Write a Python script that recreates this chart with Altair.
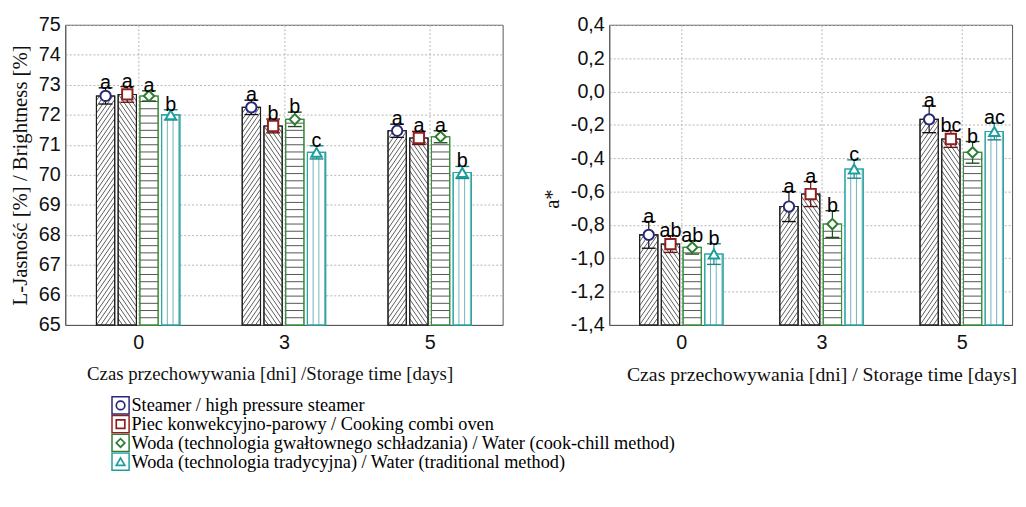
import math
import altair as alt
import pandas as pd

# ---------------- data ----------------
days = ["0", "3", "5"]
series = [
    "Steamer / high pressure steamer",
    "Piec konwekcyjno-parowy / Cooking combi oven",
    "Woda (technologia gwałtownego schładzania) / Water (cook-chill method)",
    "Woda (technologia tradycyjna) / Water (traditional method)",
]

# L* brightness [%], days 0, 3, 5
L_steamer = [72.63, 72.25, 71.47]
L_oven = [72.68, 71.63, 71.23]
L_chill = [72.63, 71.85, 71.27]
L_trad = [72.00, 70.75, 70.08]
L_err_steamer = [0.27, 0.24, 0.22]
L_err_oven = [0.26, 0.23, 0.22]
L_err_chill = [0.17, 0.24, 0.20]
L_err_trad = [0.17, 0.22, 0.20]
L_let_steamer = ["a", "a", "a"]
L_let_oven = ["a", "b", "a"]
L_let_chill = ["a", "b", "a"]
L_let_trad = ["b", "c", "b"]

# a* values, days 0, 3, 5
A_steamer = [-0.86, -0.69, -0.167]
A_oven = [-0.915, -0.615, -0.285]
A_chill = [-0.935, -0.795, -0.365]
A_trad = [-0.975, -0.465, -0.24]
A_err_steamer = [0.08, 0.09, 0.08]
A_err_oven = [0.05, 0.075, 0.05]
A_err_chill = [0.04, 0.08, 0.065]
A_err_trad = [0.062, 0.055, 0.05]
A_let_steamer = ["a", "a", "a"]
A_let_oven = ["ab", "a", "bc"]
A_let_chill = ["ab", "b", "b"]
A_let_trad = ["b", "c", "ac"]

L_ticks = [65, 66, 67, 68, 69, 70, 71, 72, 73, 74, 75]
A_ticks = [-1.4, -1.2, -1.0, -0.8, -0.6, -0.4, -0.2, 0.0, 0.2, 0.4]

# ---------------- style ----------------
SERIES_STROKE = ["#1e1e1e", "#1e1e1e", "#3a8f3a", "#2aa5a5"]
SERIES_MARK = ["#27277a", "#8e1f1f", "#2e7d32", "#1c9e9e"]
SERIES_ERR = ["#111111", "#5c1616", "#1f4f1f", "#1e8585"]
SHAPES = ["circle", "square", "diamond", "triangle-up"]
HATCH = ["diag_up", "diag_down", "horiz", "vert"]
HATCH_COL = ["#333333", "#333333", "#2a2a2a", "#4f9ea6"]

SANS = "Liberation Sans, Arial, sans-serif"
SERIF = "Liberation Serif, Times New Roman, serif"

LEFT_W, RIGHT_W, PLOT_H = 443, 408, 304
LEFT_XDOM = [-0.5, 2.5]
RIGHT_XDOM = [-0.514, 2.359]
BAR_PX, STEP_PX, CAP_PX = 18.5, 22.0, 14.0
SLOPE, SP_D, SP_H, SP_V = 1.45, 6.5, 7.3, 5.8


def build(vals, errs, lets, ymin, pxx):
    step = STEP_PX / pxx
    half = BAR_PX / 2 / pxx
    cap = CAP_PX / 2 / pxx
    rows = []
    for s, name in enumerate(series):
        for g, d in enumerate(days):
            xc = g + (s - 1.5) * step
            m, e = vals[s][g], errs[s][g]
            rows.append(dict(series=name, day=d, xc=xc, x0=xc - half, x1=xc + half,
                             c0=xc - cap, c1=xc + cap, mean=m, lo=m - e, hi=m + e,
                             base=ymin, let=lets[s][g], kind=HATCH[s]))
    return pd.DataFrame(rows)


def hatch(df, pxx, pxy):
    out = []
    for r in df.itertuples():
        w = (r.x1 - r.x0) * pxx
        h = (r.mean - r.base) * pxy
        segs = []
        if r.kind == "horiz":
            v = SP_H
            while v < h - 1:
                segs.append((0, v, w, v))
                v += SP_H
        elif r.kind == "vert":
            u = SP_V
            while u < w - 1:
                segs.append((u, 0, u, h))
                u += SP_V
        elif r.kind == "diag_up":
            m = SLOPE
            for k in range(math.floor(-m * w / SP_D), math.ceil(h / SP_D) + 1):
                c = k * SP_D
                u0, u1 = max(0.0, -c / m), min(w, (h - c) / m)
                if u1 - u0 > 0.3:
                    segs.append((u0, m * u0 + c, u1, m * u1 + c))
        else:
            m = SLOPE
            for k in range(0, math.ceil((h + m * w) / SP_D) + 1):
                c = k * SP_D
                u0, u1 = max(0.0, (c - h) / m), min(w, c / m)
                if u1 - u0 > 0.3:
                    segs.append((u0, c - m * u0, u1, c - m * u1))
        for ua, va, ub, vb in segs:
            out.append(dict(kind=r.kind, hx=r.x0 + ua / pxx, hy=r.base + va / pxy,
                            hx2=r.x0 + ub / pxx, hy2=r.base + vb / pxy))
    return pd.DataFrame(out)


day_expr = "[" + ",".join("'%s'" % d for d in days) + "][datum.value]"


def panel(vals, errs, lets, ydom, yvals, width, xdom, ytitle, xtitle, xtitle_x, xtitle_size,
          ylabel_expr=None, ytitle_y=None):
    pxx = width / (xdom[1] - xdom[0])
    pxy = PLOT_H / (ydom[1] - ydom[0])
    df = build(vals, errs, lets, ydom[0], pxx)
    hdf = hatch(df, pxx, pxy)
    xs = alt.Scale(domain=xdom, nice=False, zero=False)
    ys = alt.Scale(domain=ydom, nice=False, zero=False)
    xaxis = alt.Axis(values=[0, 1, 2], labelExpr=day_expr, title=xtitle, grid=True, ticks=False,
                     labelPadding=8, titlePadding=12, titleFontSize=xtitle_size, titleX=xtitle_x,
                     domain=True)
    yk = dict(values=yvals, title=ytitle, grid=True, ticks=False, labelPadding=5, titlePadding=8,
              titleFontSize=21)
    if ylabel_expr:
        yk["labelExpr"] = ylabel_expr
    if ytitle_y is not None:
        yk["titleY"] = ytitle_y
    yaxis = alt.Axis(**yk)

    def X(f):
        return alt.X(f, scale=xs, axis=xaxis)

    def Y(f):
        return alt.Y(f, scale=ys, axis=yaxis)

    base = alt.Chart(df)
    sstroke = alt.Stroke("series:N", scale=alt.Scale(domain=series, range=SERIES_STROKE), legend=None)
    serr = alt.Stroke("series:N", scale=alt.Scale(domain=series, range=SERIES_ERR), legend=None)
    smark = alt.Stroke("series:N", scale=alt.Scale(domain=series, range=SERIES_MARK), legend=None)
    bars = base.mark_rect(fill="white", strokeWidth=1.1).encode(
        x=X("x0:Q"), x2="x1", y=Y("mean:Q"), y2="base", stroke=sstroke)
    hat = alt.Chart(hdf).mark_rule(strokeWidth=0.8).encode(
        x=X("hx:Q"), x2="hx2", y=Y("hy:Q"), y2="hy2",
        stroke=alt.Stroke("kind:N", scale=alt.Scale(domain=HATCH, range=HATCH_COL), legend=None))
    outline = base.mark_rect(fillOpacity=0, strokeWidth=1.1).encode(
        x=X("x0:Q"), x2="x1", y=Y("mean:Q"), y2="base", stroke=sstroke)
    whisk = base.mark_rule(strokeWidth=1.2).encode(
        x=X("xc:Q"), y=Y("lo:Q"), y2="hi", stroke=serr)
    capt = base.mark_rule(strokeWidth=1.4).encode(
        x=X("c0:Q"), x2="c1", y=Y("hi:Q"), stroke=serr)
    capb = base.mark_rule(strokeWidth=1.4).encode(
        x=X("c0:Q"), x2="c1", y=Y("lo:Q"), stroke=serr)
    pts = base.mark_point(fill="white", fillOpacity=1, strokeWidth=2, size=110, opacity=1).encode(
        x=X("xc:Q"), y=Y("mean:Q"), stroke=smark,
        shape=alt.Shape("series:N", scale=alt.Scale(domain=series, range=SHAPES), legend=None))
    txt = base.mark_text(font=SANS, fontSize=20, baseline="alphabetic", dy=1, color="black").encode(
        x=X("xc:Q"), y=Y("hi:Q"), text="let:N")
    return alt.layer(bars, hat, outline, whisk, capt, capb, pts, txt).resolve_scale(
        stroke="independent").properties(width=width, height=PLOT_H)


left = panel([L_steamer, L_oven, L_chill, L_trad],
             [L_err_steamer, L_err_oven, L_err_chill, L_err_trad],
             [L_let_steamer, L_let_oven, L_let_chill, L_let_trad],
             [65, 75], L_ticks, LEFT_W, LEFT_XDOM,
             "L-Jasność [%] / Brightness [%]",
             "Czas przechowywania [dni] /Storage time [days]", 207, 19)

right = panel([A_steamer, A_oven, A_chill, A_trad],
              [A_err_steamer, A_err_oven, A_err_chill, A_err_trad],
              [A_let_steamer, A_let_oven, A_let_chill, A_let_trad],
              [-1.4, 0.4], A_ticks, RIGHT_W, RIGHT_XDOM,
              "a*",
              "Czas przechowywania [dni] / Storage time [days]", 215, 20,
              ylabel_expr="replace(replace(format(datum.value, '.1f'), '.', ','), '\u2212', '-')",
              ytitle_y=176)

# ---------------- legend ----------------
leg_df = pd.DataFrame({"series": series, "row": list(range(len(series)))})
LX = 56
ly = alt.Y("row:Q", scale=alt.Scale(domain=[3.5, -0.5]), axis=None)
lstroke = alt.Stroke("series:N", scale=alt.Scale(domain=series, range=SERIES_MARK), legend=None)
lbase = alt.Chart(leg_df)
lbox = lbase.mark_square(size=300, filled=False, fill="white", fillOpacity=1, strokeWidth=1.5, opacity=1).encode(
    x=alt.value(LX), y=ly, stroke=lstroke)
lpt = lbase.mark_point(size=75, strokeWidth=1.7, opacity=1).encode(
    x=alt.value(LX), y=ly, stroke=lstroke,
    shape=alt.Shape("series:N", scale=alt.Scale(domain=series, range=SHAPES), legend=None))
ltxt = lbase.mark_text(align="left", baseline="middle", font=SERIF, fontSize=18.5, color="black").encode(
    x=alt.value(LX + 11), y=ly, text="series:N")
legend = alt.layer(lbox, lpt, ltxt).properties(width=700, height=76,
                                              view=alt.ViewBackground(strokeOpacity=0))

top = alt.hconcat(left, right, spacing=38)
chart = alt.vconcat(top, legend, spacing=8).properties(
    padding={"left": 1, "top": 3, "right": 0, "bottom": 0}, background="white"
).configure_view(stroke="#555555", strokeWidth=1).configure_axis(
    labelFont=SANS, labelFontSize=20, labelColor="#111111",
    titleFont=SERIF, titleFontSize=20, titleFontWeight="normal", titleColor="#111111",
    gridColor="#b5b5b5", gridDash=[2, 2], gridWidth=1,
    domainColor="#555555"
)

chart.save("out.html", embed_options={"renderer": "svg", "actions": False})
